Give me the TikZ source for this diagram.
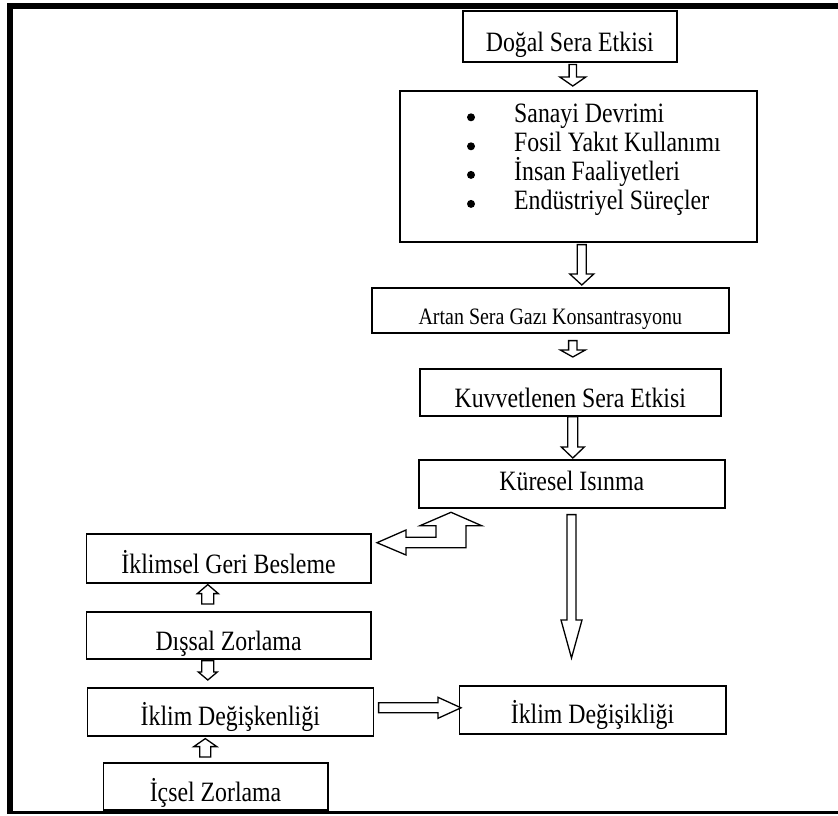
\documentclass[tikz,border=0pt]{standalone}
\usepackage{fontspec}
\setmainfont{Liberation Serif}[FakeStretch=0.85]
\usetikzlibrary{calc}

% block arrows: #1 start of shaft, #2 tip, #3 shaft half width, #4 head half width, #5 head length
\newcommand\downblock[5]{\draw[blockarrow] let \p1=#1, \p2=#2 in
  (\x2-#3pt,\y1) -- (\x2+#3pt,\y1) -- (\x2+#3pt,\y2+#5pt) -- (\x2+#4pt,\y2+#5pt)
  -- (\x2,\y2) -- (\x2-#4pt,\y2+#5pt) -- (\x2-#3pt,\y2+#5pt) -- cycle;}
\newcommand\upblock[5]{\draw[blockarrow] let \p1=#1, \p2=#2 in
  (\x2-#3pt,\y1) -- (\x2+#3pt,\y1) -- (\x2+#3pt,\y2-#5pt) -- (\x2+#4pt,\y2-#5pt)
  -- (\x2,\y2) -- (\x2-#4pt,\y2-#5pt) -- (\x2-#3pt,\y2-#5pt) -- cycle;}
\newcommand\rightblock[5]{\draw[blockarrow] let \p1=#1, \p2=#2 in
  (\x1,\y2+#3pt) -- (\x2-#5pt,\y2+#3pt) -- (\x2-#5pt,\y2+#4pt) -- (\x2,\y2)
  -- (\x2-#5pt,\y2-#4pt) -- (\x2-#5pt,\y2-#3pt) -- (\x1,\y2-#3pt) -- cycle;}

\tikzset{
  box/.style={draw=black, line width=1.6pt, fill=white, inner sep=0pt,
    anchor=north west, font=\fontsize{28}{29}\selectfont},
  item/.style={inner sep=0pt, anchor=base west, font=\fontsize{28}{29}\selectfont},
  blockarrow/.style={draw=black, line width=1.3pt, fill=white, line join=miter},
}

\begin{document}
\begin{tikzpicture}[x=1pt, y=-1pt]
\useasboundingbox (0,0) rectangle (838,816);

% outer frame (top, left and bottom rules)
\fill[black] (7,3) rectangle (838,9.3);
\fill[black] (7,3) rectangle (13.3,814);
\fill[black] (7,810.5) rectangle (838,814);

% main chain
\node[box, minimum width=214pt, text height=41pt, text depth=10pt] (dogal) at (462,10) {Doğal Sera Etkisi};
\node[box, minimum width=357pt, minimum height=151pt] (causes) at (399,90) {};
\node[item] (c1) at (514,122.7) {Sanayi Devrimi};
\node[item] (c2) at (514,151.7) {Fosil Yakıt Kullanımı};
\node[item] (c3) at (514,180.3) {İnsan Faaliyetleri};
\node[item] (c4) at (514,209.3) {Endüstriyel Süreçler};
\foreach \yy in {117.3,146.3,174.9,203.9} \fill[black] (471,\yy) circle[radius=4pt];

\node[box, minimum width=357pt, text height=37pt, text depth=8pt,
  font=\fontsize{23.5}{28}\selectfont] (artan) at (371,287) {Artan Sera Gazı Konsantrasyonu};
\node[box, minimum width=301pt, text height=39pt, text depth=8pt] (kuvvet) at (419,368) {Kuvvetlenen Sera Etkisi};
\node[box, minimum width=306pt, text height=31pt, text depth=17pt] (kuresel) at (418,459) {Küresel Isınma};

% left column and result
\node[box, minimum width=284.5pt, text height=40pt, text depth=9pt] (iklimsel) at (85.5,533) {İklimsel Geri Besleme};
\node[box, minimum width=284.5pt, text height=39pt, text depth=8pt] (dissal) at (85.5,611) {Dışsal Zorlama};
\node[box, minimum width=286pt, text height=38pt, text depth=10pt] (degiskenlik) at (86.5,687) {İklim Değişkenliği};
\node[box, minimum width=224.5pt, text height=39pt, text depth=8pt] (icsel) at (102.5,762) {İçsel Zorlama};
\node[box, minimum width=266.5pt, text height=37.7pt, text depth=10.3pt] (degisiklik) at (458.5,685) {İklim Değişikliği};

\coordinate (kend) at (571.5,658);

% block arrows
\downblock{($(dogal.south)+(3,2)$)}{($(causes.north)+(-5.5,-4)$)}{3.7}{13}{9}
\downblock{($(causes.south)+(3.5,2)$)}{($(artan.north)+(31.5,-2)$)}{4.5}{12}{11}
\downblock{($(artan.south)+(22.5,7)$)}{($(kuvvet.north)+(2.5,-11)$)}{4.2}{12.5}{7}
\downblock{($(kuvvet.south)+(2.5,0)$)}{($(kuresel.north)+(1,-1)$)}{5}{11.5}{11}
\downblock{($(kuresel.south)+(0.5,6)$)}{(kend)}{4.5}{10.5}{38}
\upblock{($(dissal.north)+(-20.75,-7)$)}{($(iklimsel.south)+(-20.75,1)$)}{6}{10.5}{9}
\downblock{($(dissal.south)+(-20.75,1)$)}{($(degiskenlik.north)+(-22.5,-7)$)}{6}{9.5}{8}
\upblock{($(icsel.north)+(-10.25,-5)$)}{($(degiskenlik.south)+(-25,2)$)}{5.5}{11.5}{8}
\rightblock{($(degiskenlik.east)+(4.5,0)$)}{($(degisiklik.west)+(2.5,-2)$)}{5}{10.5}{23}

% feedback arrow between global warming and climate feedback
\draw[blockarrow] (377,542.7) -- (406,530) -- (406,537.3) -- (436,537.3) -- (436,525.7)
  -- (420,525.7) -- (451,512.3) -- (481.7,525.7) -- (466,525.7) -- (466,547.7)
  -- (406,547.7) -- (406,555) -- cycle;
\end{tikzpicture}
\end{document}
